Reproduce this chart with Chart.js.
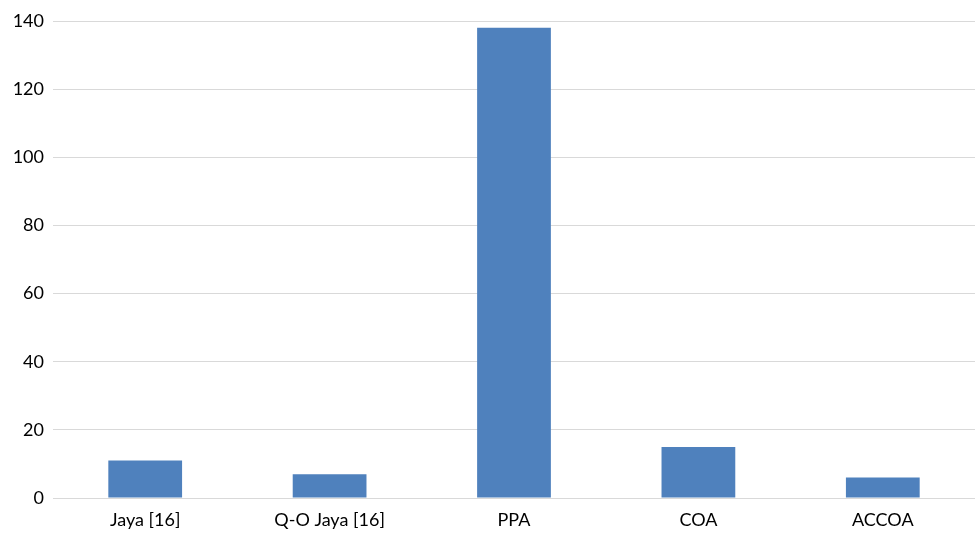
<!DOCTYPE html>
<html>
<head>
<meta charset="utf-8">
<script src="https://cdn.jsdelivr.net/npm/chart.js@4/dist/chart.umd.min.js"></script>
<style>
  html, body { margin: 0; padding: 0; background: #fff; }
  #wrap { width: 980px; height: 533px; }
</style>
</head>
<body>
<div id="wrap"><canvas id="grafico"></canvas></div>
<script>
// Dados
const categorias = ['Jaya [16]', 'Q-O Jaya [16]', 'PPA', 'COA', 'ACCOA'];
const valores    = [11, 7, 138, 15, 6];
const yTicks     = [0, 20, 40, 60, 80, 100, 120, 140];

new Chart(document.getElementById('grafico'), {
  type: 'bar',
  data: {
    labels: categorias,
    datasets: [{
      data: valores,
      backgroundColor: '#4f81bd',
      borderWidth: 0,
      barPercentage: 0.4,
      categoryPercentage: 1
    }]
  },
  options: {
    responsive: true,
    maintainAspectRatio: false,
    animation: false,
    layout: { padding: { top: 21, right: 5, left: 0, bottom: 0 } },
    plugins: { legend: { display: false }, tooltip: { enabled: false } },
    scales: {
      x: {
        grid: { display: false, drawTicks: false },
        border: { display: false },
        ticks: { color: '#000', font: { family: 'Lato', size: 18 }, padding: 11 },
        afterFit: s => { s.height = 35; }
      },
      y: {
        min: 0,
        max: 140,
        afterBuildTicks: s => { s.ticks = yTicks.map(v => ({ value: v })); },
        grid: { color: '#d9d9d9', lineWidth: 1, drawTicks: false },
        border: { display: false },
        ticks: { color: '#000', font: { family: 'Lato', size: 18 }, padding: 9 },
        afterFit: s => { s.width = 53; }
      }
    }
  }
});
</script>
</body>
</html>
